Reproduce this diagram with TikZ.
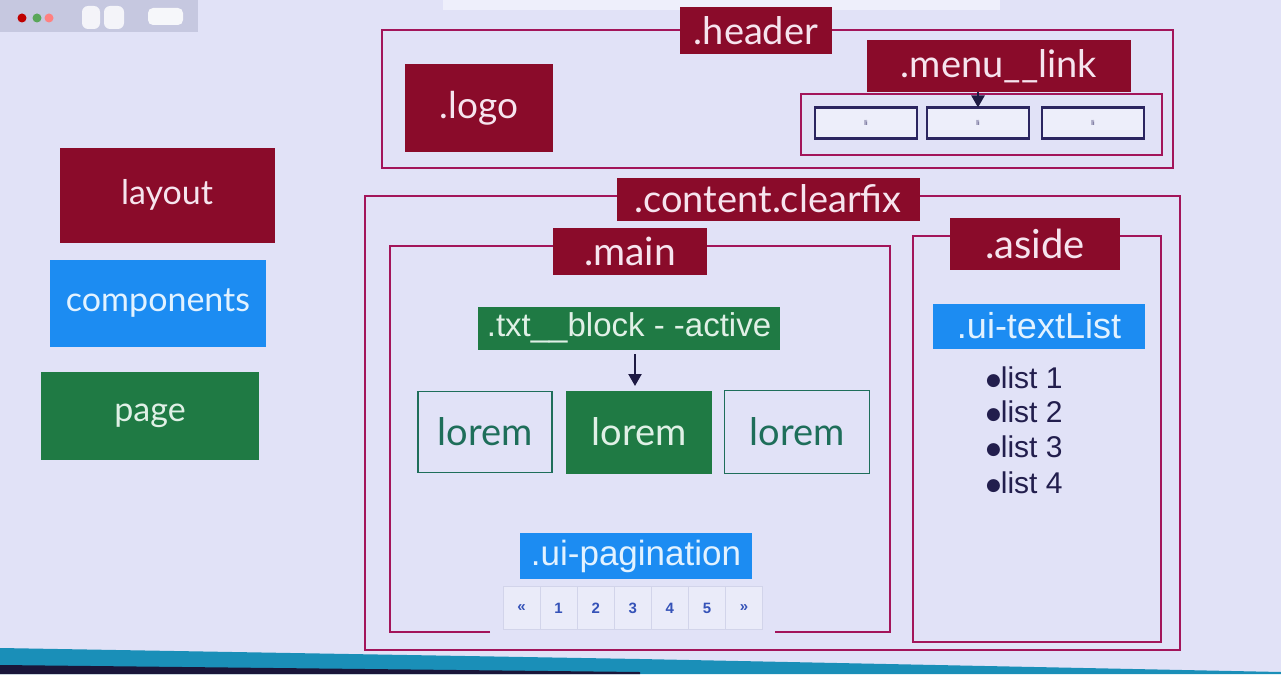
\documentclass[tikz,border=0pt]{standalone}
\usepackage{fontspec}
\setmainfont{Lato}
\newfontfamily\arial{Liberation Sans}
\newfontfamily\dejavu{DejaVu Sans}
\usetikzlibrary{arrows.meta}
\definecolor{bgc}{HTML}{E1E2F7}
\definecolor{lred}{HTML}{8A0B2A}
\definecolor{lblue}{HTML}{1C8CF2}
\definecolor{lgreen}{HTML}{1F7A44}
\definecolor{framec}{HTML}{A3155A}
\definecolor{navy}{HTML}{2B2560}
\definecolor{teal}{HTML}{1E6E5A}
\definecolor{redtxt}{HTML}{F6E4EE}
\definecolor{bluetxt}{HTML}{E2F2FF}
\definecolor{greentxt}{HTML}{E0F0E6}
\definecolor{pagtxt}{HTML}{3552B8}
\definecolor{pagline}{HTML}{D2D4EA}
\definecolor{barc}{HTML}{C6C8E0}
\definecolor{bandc}{HTML}{1A8FB8}
\newcommand{\blt}{\raisebox{3pt}{\dejavu\fontsize{17}{17}\selectfont ●}}
\begin{document}
\begin{tikzpicture}[x=1pt,y=-1pt,
  box/.style={inner sep=0pt,outer sep=0pt,align=center},
  redlbl/.style={box,fill=lred,text=redtxt},
  bluelbl/.style={box,fill=lblue,text=bluetxt},
  greenlbl/.style={box,fill=lgreen,text=greentxt},
  gfont/.style={font=\fontsize{#1}{#1}\selectfont},
  afont/.style={font=\arial\fontsize{#1}{#1}\selectfont},
  frame/.style={draw=framec,line width=2.4pt},
  libox/.style={box,draw=navy,line width=2.6pt,fill=bgc!60!white,minimum width=102,minimum height=31,
    text=navy,font=\arial\fontsize{7}{7}\selectfont},
  loremout/.style={box,draw=teal,line width=1.8pt,text=teal,gfont=38},
  pcell/.style={box,draw=pagline,line width=0.8pt,fill=bgc!70!white,minimum width=37,minimum height=43,
    text=pagtxt,font=\arial\bfseries\fontsize{15}{15}\selectfont},
  listitem/.style={box,anchor=west,text=navy!80!black,afont=30},
  conn/.style={draw=navy!70!black,line width=2.2pt,-{Triangle[length=12pt,width=13pt]}}
]
\useasboundingbox (0,0) rectangle (1281,674);
\fill[bgc] (0,0) rectangle (1281,674);
% browser chrome
\fill[barc] (0,0) rectangle (198,32);
\fill[white!45!bgc] (443,0) rectangle (1000,10);
\fill[red!75!black] (22,18) circle (4.5);
\fill[gray!70!green] (37,18) circle (4.5);
\fill[red!50!white] (49,18) circle (4.5);
\fill[white!80!barc,rounded corners=6pt] (82,6) rectangle (100,29);
\fill[white!80!barc,rounded corners=6pt] (104,6) rectangle (124,29);
\fill[white!85!barc,rounded corners=5pt] (148,8) rectangle (183,25);
% screen edge band
\fill[bandc] (0,648) -- (640,659) -- (1281,672) -- (1281,674) -- (0,674) -- cycle;
\fill[navy!60!black] (0,665) -- (640,672) -- (640,674) -- (0,674) -- cycle;

% legend
\node[redlbl,gfont=34,minimum width=215,minimum height=95] (layout) at (167,195) {layout};
\node[bluelbl,gfont=34,minimum width=216,minimum height=87] (components) at (158,303) {components};
\node[greenlbl,gfont=34,minimum width=218,minimum height=88] (page) at (150,416) {page};

% header
\draw[frame] (382,30) rectangle (1173,168);
\node[redlbl,gfont=38,minimum width=152,minimum height=47] (header) at (756,31) {.header};
\node[redlbl,gfont=37,minimum width=148,minimum height=87] (logo) at (479,108) {.logo};
\node[redlbl,gfont=38,minimum width=264,minimum height=52] (menulink) at (999,66) {.menu\_\_link};
\draw[draw=framec,line width=2pt] (801,94) rectangle (1162,155);
\node[libox] (li1) at (866,123) {li};
\node[libox] (li2) at (978,123) {li};
\node[libox] (li3) at (1093,123) {li};
\draw[conn] (li2.north |- menulink.south) -- (li2.north);

% content
\draw[frame] (365,196) rectangle (1180,650);
\node[redlbl,gfont=38,minimum width=303,minimum height=43] (content) at (768,199) {.content.clearfix};

% main
\draw[frame] (490,632) -- (390,632) -- (390,246) -- (890,246) -- (890,632) -- (775,632);
\node[redlbl,gfont=39,minimum width=154,minimum height=47] (main) at (630,251) {.main};
\node[greenlbl,afont=33,minimum width=302,minimum height=43] (txtblock) at (629,328) {.txt\_\_block - -active};
\node[loremout,minimum width=134,minimum height=81] (lorem1) at (485,432) {lorem};
\node[greenlbl,gfont=38,minimum width=146,minimum height=83] (lorem2) at (639,432) {lorem};
\node[loremout,minimum width=145,minimum height=83] (lorem3) at (797,432) {lorem};
\coordinate (ta) at (635,354);
\coordinate (tb) at (635,386);
\draw[conn] (ta) -- (tb);
\node[bluelbl,afont=35,minimum width=232,minimum height=46] (pagination) at (636,556) {.ui-pagination};
\node[pcell] (p1) at (521.5,608) {«};
\node[pcell] (p2) at (558.6,608) {1};
\node[pcell] (p3) at (595.7,608) {2};
\node[pcell] (p4) at (632.8,608) {3};
\node[pcell] (p5) at (669.9,608) {4};
\node[pcell] (p6) at (707.0,608) {5};
\node[pcell] (p7) at (744.1,608) {»};

% aside
\draw[frame] (913,236) rectangle (1161,642);
\node[redlbl,gfont=40,minimum width=170,minimum height=52] (aside) at (1035,244) {.aside};
\node[bluelbl,afont=36,minimum width=212,minimum height=45] (textlist) at (1039,326) {.ui-textList};
\node[listitem] (l1) at (986,378) {\blt list 1};
\node[listitem] (l2) at (986,412) {\blt list 2};
\node[listitem] (l3) at (986,447) {\blt list 3};
\node[listitem] (l4) at (986,483) {\blt list 4};
\end{tikzpicture}
\end{document}
